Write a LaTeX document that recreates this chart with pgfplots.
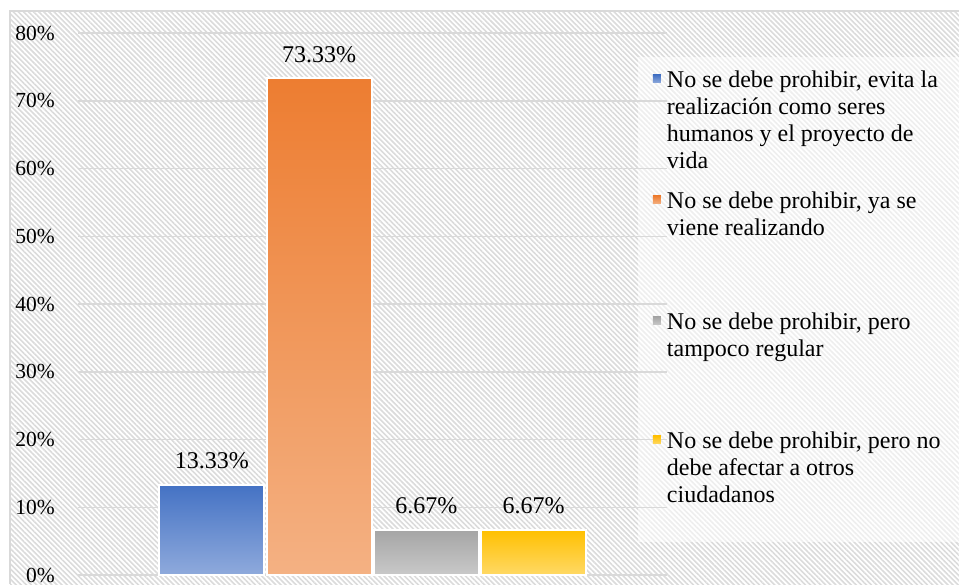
\documentclass[border=0pt]{standalone}
\usepackage{pgfplots}
\pgfplotsset{compat=1.18}
\usepackage{fontspec}
\setmainfont{Liberation Serif}
\usetikzlibrary{patterns.meta}
\definecolor{bluetop}{HTML}{4472C4}\definecolor{bluebot}{HTML}{8FAADC}
\definecolor{orgtop}{HTML}{ED7D31}\definecolor{orgbot}{HTML}{F4B183}
\definecolor{graytop}{HTML}{A5A5A5}\definecolor{graybot}{HTML}{C9C9C9}
\definecolor{yeltop}{HTML}{FFC000}\definecolor{yelbot}{HTML}{FFD966}
\definecolor{gridc}{HTML}{D9D9D9}
\begin{document}
\fontsize{24}{27}\selectfont
\begin{tikzpicture}
\path[use as bounding box] (0,0) rectangle (959pt,584pt);
\fill[white] (0,0) rectangle (959pt,584pt);
\fill[pattern={Lines[angle=-45,distance=3.6pt,line width=1.6pt]}, pattern color=black!14] (10pt,0) rectangle (959pt,573pt);
\draw[gridc, line width=1.5pt] (10pt,0) -- (10pt,573pt) -- (960pt,573pt);
\fill[white, opacity=0.55] (638pt,42pt) rectangle (959pt,527pt);
\begin{axis}[
  at={(78pt,9pt)}, anchor=south west,
  scale only axis, width=589pt, height=542pt,
  xmin=-1.247, xmax=4.242, ymin=0, ymax=80,
  axis line style={draw=none},
  xtick=\empty,
  ytick={0,10,...,80},
  major tick length=0pt,
  ymajorgrids, grid style={gridc, line width=1.5pt},
  yticklabel={\pgfmathprintnumber{\tick}\%},
  yticklabel style={anchor=east, inner sep=0pt, xshift=-23pt, font=\fontsize{21.5}{24}\selectfont},
  /pgf/number format/assume math mode=true,
  nodes near coords={\pgfmathprintnumber[fixed,fixed zerofill,precision=2,assume math mode=true]{\pgfplotspointmeta}\%},
  nodes near coords style={anchor=base, yshift=16pt, inner sep=0pt},
  lsq/.style={legend image code/.code={\fill[##1,draw=none] (0pt,5pt) rectangle (8pt,13pt);}},
  legend style={at={(0.9762,0.9293)}, anchor=north west, draw=none, fill=none,
    inner sep=0pt, outer sep=0pt, row sep=0pt, column sep=6pt,
    cells={anchor=base west}, nodes={inner sep=0pt, text depth=}},
]
\addplot[ybar, bar shift=0pt, bar width=105pt, draw=white, line width=2pt, top color=bluetop, bottom color=bluebot, lsq] coordinates {(0,13.33)};
\addlegendentry{\parbox[t][121pt][t]{290pt}{No se debe prohibir, evita la\\realización como seres\\humanos y el proyecto de\\vida}}
\addplot[ybar, bar shift=0pt, bar width=105pt, draw=white, line width=2pt, top color=orgtop, bottom color=orgbot, lsq] coordinates {(1,73.33)};
\addlegendentry{\parbox[t][121pt][t]{290pt}{No se debe prohibir, ya se\\viene realizando}}
\addplot[ybar, bar shift=0pt, bar width=105pt, draw=white, line width=2pt, top color=graytop, bottom color=graybot, lsq] coordinates {(2,6.67)};
\addlegendentry{\parbox[t][119pt][t]{290pt}{No se debe prohibir, pero\\tampoco regular}}
\addplot[ybar, bar shift=0pt, bar width=105pt, draw=white, line width=2pt, top color=yeltop, bottom color=yelbot, lsq] coordinates {(3,6.67)};
\addlegendentry{\parbox[t][60pt][t]{290pt}{No se debe prohibir, pero no\\debe afectar a otros\\ciudadanos}}
\end{axis}
\end{tikzpicture}
\end{document}
